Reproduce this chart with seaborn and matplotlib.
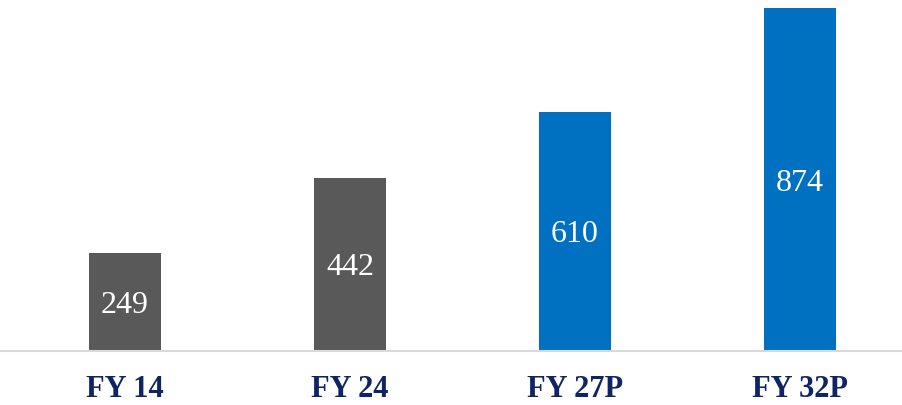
import matplotlib
matplotlib.use("Agg")
import matplotlib.pyplot as plt
import seaborn as sns
import pandas as pd

# chart data
categories = ["FY 14", "FY 24", "FY 27P", "FY 32P"]
values = [249, 442, 610, 874]
bar_colors = ["#595959", "#595959", "#0070C0", "#0070C0"]

df = pd.DataFrame({"Year": categories, "Value": values})

sns.set_style("white")
plt.rcParams['font.family'] = ['Liberation Serif', 'DejaVu Serif']

fig = plt.figure(figsize=(9.02, 4.05), dpi=100)
ax = fig.add_axes([0.0, 0.1333, 1.0, 0.8667])

sns.barplot(data=df, x="Year", y="Value", hue="Year", palette=bar_colors,
            legend=False, width=0.32, saturation=1, linewidth=0, ax=ax)

ax.set_xlim(-0.5556, 3.453)
ax.set_ylim(0, 894.4)

# value labels in the middle of each bar
for i, v in enumerate(values):
    ax.text(i, v / 2, str(v), ha="center", va="center_baseline",
            color="white", fontsize=23)

for s in ["top", "right", "left"]:
    ax.spines[s].set_visible(False)
ax.spines["bottom"].set_color("#D9D9D9")
ax.spines["bottom"].set_linewidth(1.5)

ax.set_yticks([])
ax.set_xlabel("")
ax.set_ylabel("")
ax.tick_params(axis="x", length=0, pad=17)
for lbl in ax.get_xticklabels():
    lbl.set_fontweight("bold")
    lbl.set_fontsize(22)
    lbl.set_color("#0E2465")

fig.savefig("out.png", dpi=100, facecolor="white")
plt.close(fig)
